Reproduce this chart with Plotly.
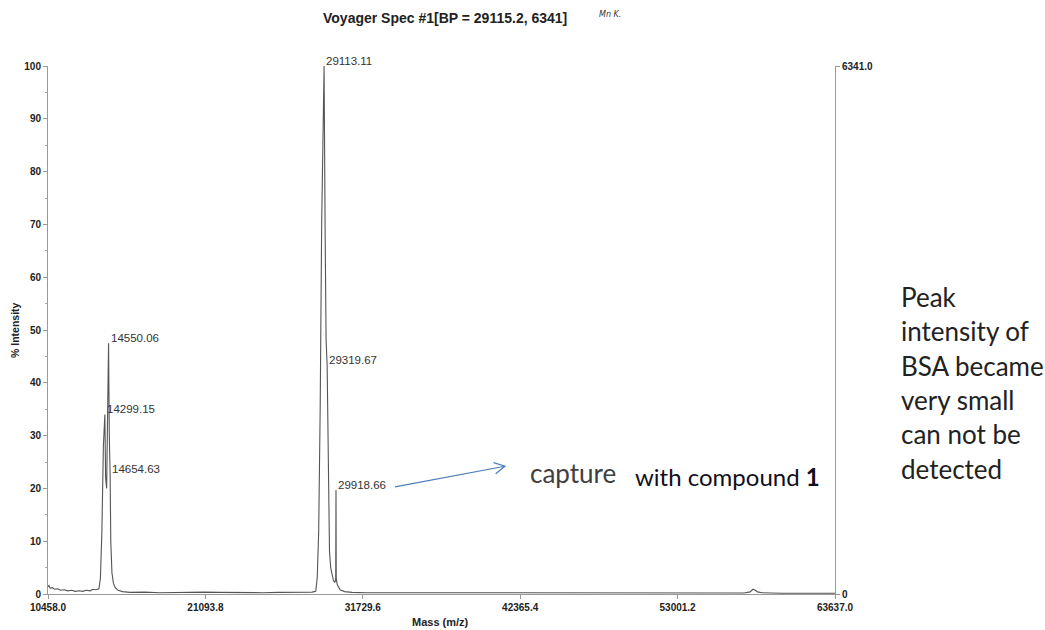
import numpy as np
import plotly.graph_objects as go

# ---- spectrum trace (m/z, % intensity) ----
mass = [10458, 10520, 10600, 10750, 10900, 11100, 11300, 11550, 11800, 12050,
        12300, 12550, 12800, 13050, 13300, 13500, 13700, 13900, 14000, 14100,
        14200, 14299.15, 14350, 14420, 14490, 14550.06, 14600, 14654.63, 14700, 14780,
        14880, 15000, 15200, 15500, 16000, 17000, 18000, 19000, 20000, 21000,
        22000, 23000, 24000, 25000, 26000, 27000, 27800, 28300, 28550, 28650,
        28750, 28850, 28950, 29050, 29113.11, 29180, 29250, 29319.67, 29370, 29420,
        29480, 29560, 29650, 29750, 29850, 29900, 29918.66, 29935, 30000, 30200,
        30500, 31000, 32000, 34000, 37000, 41000, 45000, 50000, 55000, 57500,
        57900, 58100, 58250, 58400, 58700, 59200, 60000, 62000, 63637]
intensity = [1.4, 1.6, 1.1, 1.2, 0.9, 1.0, 0.7, 0.8, 0.6, 0.7,
             0.5, 0.6, 0.5, 0.7, 0.6, 0.9, 0.8, 1.0, 3, 12,
             28, 34, 22, 20, 35, 47.5, 30, 22.8, 10, 4,
             2, 1.2, 0.7, 0.45, 0.3, 0.35, 0.25, 0.3, 0.25, 0.35,
             0.3, 0.25, 0.3, 0.25, 0.3, 0.3, 0.3, 0.35, 0.5, 3,
             12, 35, 70, 95, 100, 70, 48, 43.4, 30, 15,
             8, 5, 3.5, 2.5, 2.2, 3, 19.7, 3, 1.8, 0.8,
             0.45, 0.3, 0.25, 0.25, 0.2, 0.2, 0.2, 0.2, 0.2, 0.2,
             0.4, 0.9, 0.7, 0.4, 0.25, 0.2, 0.15, 0.15, 0.15]

# labelled peaks
peak_mass = [14550.06, 14299.15, 14654.63, 29113.11, 29319.67, 29918.66]
peak_int = [47.5, 34, 22.8, 100, 43.4, 19.7]

x_ticks = [10458.0, 21093.8, 31729.6, 42365.4, 53001.2, 63637.0]
y_ticks = [0, 10, 20, 30, 40, 50, 60, 70, 80, 90, 100]
abs_max = 6341.0

note_lines = ["Peak", "intensity of", "BSA became", "very small", "can not be", "detected"]

# ---- layout geometry ----
W, H = 1045, 630
L, R, T, B = 48, 210, 66, 36
XR = [x_ticks[0], x_ticks[-1]]
YR = [0, 100]
pw, ph = W - L - R, H - T - B

tick_font = dict(family="Arial, Liberation Sans", size=10, color="#222", weight="bold")

fig = go.Figure()
fig.add_trace(go.Scatter(x=mass, y=intensity, mode="lines",
                         line=dict(color="#555555", width=1.1),
                         hoverinfo="skip", showlegend=False))
# invisible trace to carry the absolute-intensity axis
fig.add_trace(go.Scatter(x=[XR[0]], y=[0], yaxis="y2", mode="markers",
                         marker=dict(opacity=0), hoverinfo="skip", showlegend=False))

fig.update_layout(
    width=W, height=H,
    margin=dict(l=L, r=R, t=T, b=B),
    paper_bgcolor="white", plot_bgcolor="white",
    xaxis=dict(range=XR, tickvals=x_ticks, ticktext=[f"{v:.1f}" for v in x_ticks],
               showgrid=False, zeroline=False, showline=True, linecolor="#999",
               linewidth=1, ticks="outside", ticklen=4, tickcolor="#999",
               tickfont=tick_font, ticklabelstandoff=0),
    yaxis=dict(range=YR, tickvals=y_ticks, showgrid=False, zeroline=False,
               showline=True, linecolor="#999", linewidth=1, ticks="outside",
               ticklen=4, tickcolor="#999", tickfont=tick_font,
               minor=dict(dtick=5, ticks="outside", ticklen=2, tickcolor="#aaa")),
    yaxis2=dict(range=[0, abs_max], overlaying="y", side="right",
                tickvals=[0, abs_max], ticktext=["0", f"{abs_max:.1f}"],
                showgrid=False, zeroline=False, showline=True, linecolor="#999",
                linewidth=1, ticks="outside", ticklen=4, tickcolor="#999",
                tickfont=tick_font),
)

ann = []
# title and handwritten note
ann.append(dict(text="Voyager Spec #1[BP = 29115.2, 6341]", xref="paper", yref="paper",
                x=(445 - L) / pw, y=(H - B - 18) / ph, showarrow=False,
                xanchor="center", yanchor="middle",
                font=dict(family="Arial, Liberation Sans", size=14, color="#222", weight="bold")))
ann.append(dict(text="<i>Mn K.</i>", xref="paper", yref="paper",
                x=(597 - L) / pw, y=(H - B - 14) / ph, showarrow=False,
                xanchor="left", yanchor="middle",
                font=dict(family="DejaVu Sans", size=8, color="#333")))
# axis titles
ann.append(dict(text="Mass (m/z)", xref="paper", yref="paper",
                x=(440 - L) / pw, y=(H - B - 622) / ph, showarrow=False,
                xanchor="center", yanchor="middle",
                font=dict(family="Arial, Liberation Sans", size=11, color="#222", weight="bold")))
ann.append(dict(text="% Intensity", xref="paper", yref="paper",
                x=(15 - L) / pw, y=(H - B - 330) / ph, showarrow=False, textangle=-90,
                xanchor="center", yanchor="middle",
                font=dict(family="Arial, Liberation Sans", size=10.5, color="#222", weight="bold")))

# peak labels
for m, v in zip(peak_mass, peak_int):
    ann.append(dict(text=f"{m:.2f}", x=m, y=v, xref="x", yref="y", showarrow=False,
                    xanchor="left", yanchor="middle", xshift=0, yshift=5,
                    font=dict(family="Arial, Liberation Sans", size=11.5, color="#333")))

# arrow from the 29918.66 label to the caption
tail = (33900, 20.3)
head = (41340, 24.2)
sx, sy = pw / (XR[1] - XR[0]), ph / (YR[1] - YR[0])
d = np.array([(head[0] - tail[0]) * sx, (head[1] - tail[1]) * sy])
d /= np.linalg.norm(d)
arms = []
for a in (np.radians(28), -np.radians(28)):
    rot = np.array([[np.cos(a), -np.sin(a)], [np.sin(a), np.cos(a)]])
    v = rot @ (-d) * 12
    arms.append((head[0] + v[0] / sx, head[1] + v[1] / sy))
path = (f"M {tail[0]},{tail[1]} L {head[0]},{head[1]} "
        f"M {arms[0][0]},{arms[0][1]} L {head[0]},{head[1]} L {arms[1][0]},{arms[1][1]}")
fig.add_shape(type="path", path=path, xref="x", yref="y",
              line=dict(color="#4a7ebb", width=1.2))

ann.append(dict(text="capture", xref="paper", yref="paper",
                x=(528 - L) / pw, y=(H - B - 473) / ph, showarrow=False,
                xanchor="left", yanchor="middle",
                font=dict(family="Lato", size=26, color="#404040")))
ann.append(dict(text="with compound <b>1</b>", xref="paper", yref="paper",
                x=(633 - L) / pw, y=(H - B - 476) / ph, showarrow=False,
                xanchor="left", yanchor="middle",
                font=dict(family="Lato", size=24, color="#10101c")))

# side note, one annotation per line
for i, line in enumerate(note_lines):
    ann.append(dict(text=line, xref="paper", yref="paper",
                    x=(899 - L) / pw, y=(H - B - (297 + 34.3 * i)) / ph, showarrow=False,
                    xanchor="left", yanchor="middle",
                    font=dict(family="Lato", size=26, color="#222")))

fig.update_layout(annotations=ann)
fig.write_html("out.html")
